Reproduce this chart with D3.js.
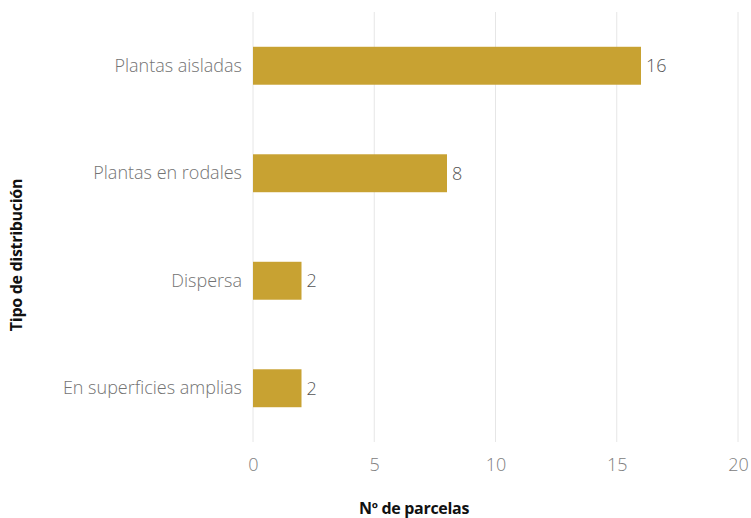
<!DOCTYPE html>
<html>
<head>
<meta charset="utf-8">
<script src="https://cdn.jsdelivr.net/npm/d3@7"></script>
<style>
  html, body { margin: 0; padding: 0; background: #fff; }
  svg { display: block; }
</style>
</head>
<body>
<svg id="chart" width="751" height="518"></svg>
<script>
// Distribution types and number of plots for each
const categories = ["Plantas aisladas", "Plantas en rodales", "Dispersa", "En superficies amplias"];
const values = [16, 8, 2, 2];
const xTicks = [0, 5, 10, 15, 20];

const svg = d3.select("#chart");
const margin = { left: 253, right: 13, top: 12, bottom: 76 };
const W = 751, H = 518;

const x = d3.scaleLinear().domain([0, 20]).range([margin.left, W - margin.right]);
const y = d3.scaleBand().domain(categories)
  .range([margin.top, H - margin.bottom])
  .paddingInner(0.647).paddingOuter(0.3235);

const labelFont = "'Open Sans', sans-serif";
const titleFont = "'Open Sans', sans-serif";

// vertical grid lines
svg.append("g").selectAll("line").data(xTicks).join("line")
  .attr("x1", d => x(d)).attr("x2", d => x(d))
  .attr("y1", margin.top).attr("y2", H - margin.bottom)
  .attr("stroke", "#e6e6e6").attr("stroke-width", 1);

// x axis tick labels
const xAxis = d3.axisBottom(x).tickValues(xTicks).tickSize(0).tickPadding(0);
const gx = svg.append("g").attr("transform", `translate(0, ${H - margin.bottom + 16})`).call(xAxis);
gx.select(".domain").remove();
gx.selectAll("text")
  .attr("font-family", labelFont).attr("font-size", 18).attr("font-weight", 300)
  .attr("fill", "#808080").attr("dy", "0.71em");

// y axis category labels
const yAxis = d3.axisLeft(y).tickSize(0).tickPadding(11);
const gy = svg.append("g").attr("transform", `translate(${margin.left}, 0)`).call(yAxis);
gy.select(".domain").remove();
gy.selectAll("text")
  .attr("font-family", labelFont).attr("font-size", 18).attr("font-weight", 300)
  .attr("fill", "#737373");

// bars
svg.append("g").selectAll("rect").data(categories).join("rect")
  .attr("x", x(0))
  .attr("y", d => y(d))
  .attr("width", (d, i) => x(values[i]) - x(0))
  .attr("height", y.bandwidth())
  .attr("fill", "#c8a232");

// value labels
svg.append("g").selectAll("text").data(categories).join("text")
  .attr("x", (d, i) => x(values[i]) + 5)
  .attr("y", d => y(d) + y.bandwidth() / 2)
  .attr("dy", "0.35em")
  .attr("font-family", labelFont).attr("font-size", 18).attr("font-weight", 300)
  .attr("fill", "#555")
  .text((d, i) => values[i]);

// axis titles
svg.append("text")
  .attr("x", 414).attr("y", 514)
  .attr("text-anchor", "middle")
  .attr("font-family", titleFont).attr("font-weight", "bold").attr("font-size", 16)
  .attr("letter-spacing", "-0.3")
  .attr("fill", "#111")
  .text("Nº de parcelas");

svg.append("text")
  .attr("transform", "translate(22, 255) rotate(-90)")
  .attr("text-anchor", "middle")
  .attr("font-family", titleFont).attr("font-weight", "bold").attr("font-size", 16)
  .attr("letter-spacing", "-0.3")
  .attr("fill", "#111")
  .text("Tipo de distribución");
</script>
</body>
</html>
